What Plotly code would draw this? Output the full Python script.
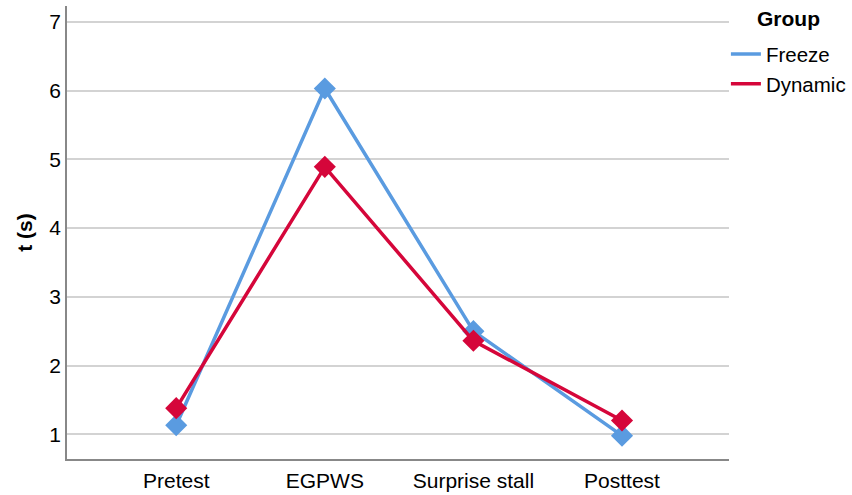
import plotly.graph_objects as go

categories = ["Pretest", "EGPWS", "Surprise stall", "Posttest"]
freeze = [1.13, 6.03, 2.50, 0.98]
dynamic = [1.38, 4.89, 2.36, 1.20]
y_ticks = [1, 2, 3, 4, 5, 6, 7]

FONT = "Liberation Sans, Arial, sans-serif"
BLUE = "#5A9BE0"
RED = "#D5063A"

xs = list(range(len(categories)))
fig = go.Figure()
for name, vals, col in [("Freeze", freeze, BLUE), ("Dynamic", dynamic, RED)]:
    fig.add_trace(go.Scatter(
        x=xs, y=vals, name=name, mode="lines+markers", showlegend=False,
        line=dict(color=col, width=3.5),
        marker=dict(symbol="diamond", size=17, color=col),
    ))
    fig.add_trace(go.Scatter(
        x=[None], y=[None], name=name, mode="lines",
        line=dict(color=col, width=3.5),
    ))

fig.update_layout(
    width=852, height=495,
    margin=dict(l=67, r=123, t=6, b=36, autoexpand=False),
    paper_bgcolor="white", plot_bgcolor="white",
    font=dict(family=FONT, size=21, color="#000000"),
    showlegend=True,
    legend=dict(
        xref="container", yref="container",
        x=0.852, y=0.931, xanchor="left", yanchor="top",
        font=dict(size=20.5),
        itemwidth=30, tracegroupgap=0,
        bgcolor="rgba(0,0,0,0)",
    ),
    annotations=[dict(
        text="<b>Group</b>", xref="paper", yref="paper",
        x=(789 - 67) / 662, y=1 - (18 - 6) / 453,
        xanchor="center", yanchor="middle", showarrow=False,
        font=dict(size=21, family=FONT, color="#000000"),
    )],
    xaxis=dict(
        range=[-0.735, 3.72], automargin=False,
        tickmode="array", tickvals=xs, ticktext=categories,
        showgrid=False, zeroline=False,
        showline=True, linecolor="#888888", linewidth=1.5,
        ticks="outside", ticklen=2, tickcolor="rgba(0,0,0,0)",
        tickfont=dict(size=21),
    ),
    yaxis=dict(
        range=[0.64, 7.23], automargin=False,
        tickmode="array", tickvals=y_ticks, ticktext=[str(v) for v in y_ticks],
        showgrid=True, gridcolor="#D3D3D3", gridwidth=1.5,
        zeroline=False,
        showline=True, linecolor="#888888", linewidth=1.5,
        tickfont=dict(size=21),
        title=dict(text="<b>t (s)</b>", font=dict(size=21), standoff=11),
    ),
)

fig.write_html("out.html")
